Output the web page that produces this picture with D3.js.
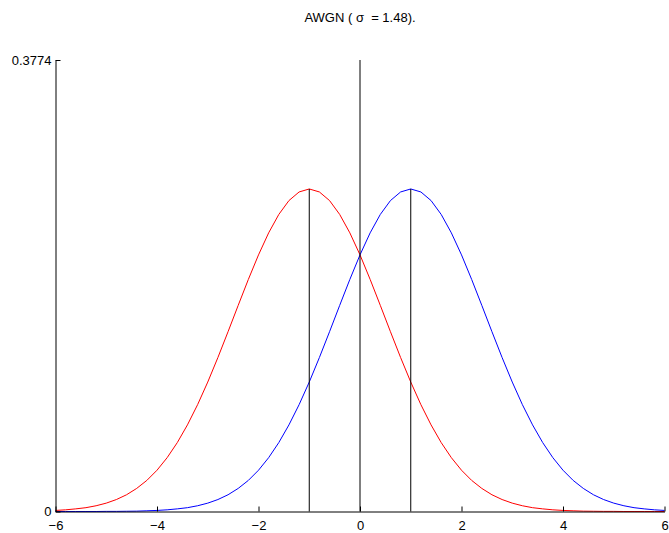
<!DOCTYPE html>
<html>
<head>
<meta charset="utf-8">
<script src="https://cdn.jsdelivr.net/npm/d3@7"></script>
<style>
body { margin: 0; background: #fff; }
text { font-family: "Liberation Sans", Arial, sans-serif; }
</style>
</head>
<body>
<div id="chart"></div>
<script>
// x grid the curves were sampled on
var xs = [-6,-5.8,-5.6,-5.4,-5.2,-5,-4.8,-4.6,-4.4,-4.2,-4,-3.8,-3.6,-3.4,-3.2,-3,-2.8,-2.6,-2.4,-2.2,
          -2,-1.8,-1.6,-1.4,-1.2,-1,-0.8,-0.6,-0.4,-0.2,0,0.2,0.4,0.6,0.8,1,1.2,1.4,1.6,1.8,
          2,2.2,2.4,2.6,2.8,3,3.2,3.4,3.6,3.8,4,4.2,4.4,4.6,4.8,5,5.2,5.4,5.6,5.8,6];

// red curve (centred at -1)
var redVals = [0.0009,0.0014,0.0022,0.0032,0.0048,0.0070,0.0100,0.0140,0.0193,0.0260,
               0.0345,0.0450,0.0576,0.0724,0.0893,0.1082,0.1287,0.1503,0.1723,0.1940,
               0.2145,0.2329,0.2483,0.2599,0.2671,0.2696,0.2671,0.2599,0.2483,0.2329,
               0.2145,0.1940,0.1723,0.1503,0.1287,0.1082,0.0893,0.0724,0.0576,0.0450,
               0.0345,0.0260,0.0193,0.0140,0.0100,0.0070,0.0048,0.0032,0.0022,0.0014,
               0.0009,0.0006,0.0003,0.0002,0.0001,0.0001,0.0000,0.0000,0.0000,0.0000,0.0000];

// blue curve (centred at +1)
var blueVals = [0.0000,0.0000,0.0000,0.0000,0.0000,0.0001,0.0001,0.0002,0.0003,0.0006,
                0.0009,0.0014,0.0022,0.0032,0.0048,0.0070,0.0100,0.0140,0.0193,0.0260,
                0.0345,0.0450,0.0576,0.0724,0.0893,0.1082,0.1287,0.1503,0.1723,0.1940,
                0.2145,0.2329,0.2483,0.2599,0.2671,0.2696,0.2671,0.2599,0.2483,0.2329,
                0.2145,0.1940,0.1723,0.1503,0.1287,0.1082,0.0893,0.0724,0.0576,0.0450,
                0.0345,0.0260,0.0193,0.0140,0.0100,0.0070,0.0048,0.0032,0.0022,0.0014,0.0009];

// black vertical markers: [x, height]
var markerX = [-1, 0, 1];
var markerY = [0.2696, 0.3774, 0.2696];

var xTicks = [-6, -4, -2, 0, 2, 4, 6];
var yTicks = [0, 0.3774];
var yTickLabels = ["0", "0.3774"];
var title = "AWGN ( \u03c3  = 1.48).";

function init(){
    var w = 669;
    var h = 533;
    var left = 55.5, right = 664.5, top = 60, bottom = 511.5;

    var xScale = d3.scaleLinear()
                .domain([-6, 6])
                .range([left, right]);

    var yScale = d3.scaleLinear()
                .domain([0, 0.3774])
                .range([bottom, top]);

    var svg = d3.select("#chart")
                .append("svg")
                .attr("width", w)
                .attr("height", h);

    //title
    svg.append("text")
        .attr("x", (left + right) / 2)
        .attr("y", 22)
        .attr("text-anchor", "middle")
        .attr("font-size", 13)
        .style("white-space", "pre")
        .text(title);

    var line = d3.line()
                .x(function(d){ return xScale(d[0]); })
                .y(function(d){ return yScale(d[1]); });

    //curves
    svg.append("path")
        .datum(d3.zip(xs, redVals))
        .attr("d", line)
        .attr("fill", "none")
        .attr("stroke", "#ff0000")
        .attr("stroke-width", 1);

    svg.append("path")
        .datum(d3.zip(xs, blueVals))
        .attr("d", line)
        .attr("fill", "none")
        .attr("stroke", "#0000ff")
        .attr("stroke-width", 1);

    //vertical markers
    svg.selectAll("line.marker")
        .data(d3.zip(markerX, markerY))
        .enter()
        .append("line")
        .attr("class", "marker")
        .attr("x1", function(d){ return xScale(d[0]); })
        .attr("x2", function(d){ return xScale(d[0]); })
        .attr("y1", yScale(0))
        .attr("y2", function(d){ return yScale(d[1]); })
        .attr("stroke", "#000")
        .attr("stroke-width", 1);

    //axes
    var xAxis = d3.axisBottom(xScale)
                .tickValues(xTicks)
                .tickSizeInner(-5)
                .tickSizeOuter(0)
                .tickPadding(9);

    var yAxis = d3.axisLeft(yScale)
                .tickValues(yTicks)
                .tickFormat(function(d, i){ return yTickLabels[i]; })
                .tickSizeInner(-5)
                .tickSizeOuter(0)
                .tickPadding(4);

    svg.append("g")
        .attr("transform", "translate(0," + bottom + ")")
        .call(xAxis)
        .call(function(g){ g.selectAll("text").attr("font-size", 13).attr("fill", "#000").attr("font-family", null); });

    svg.append("g")
        .attr("transform", "translate(" + left + ",0)")
        .call(yAxis)
        .call(function(g){ g.selectAll("text").attr("font-size", 13).attr("fill", "#000").attr("font-family", null); });

    svg.selectAll(".domain, .tick line").attr("stroke", "#000");
}
window.onload = init;
</script>
</body>
</html>
